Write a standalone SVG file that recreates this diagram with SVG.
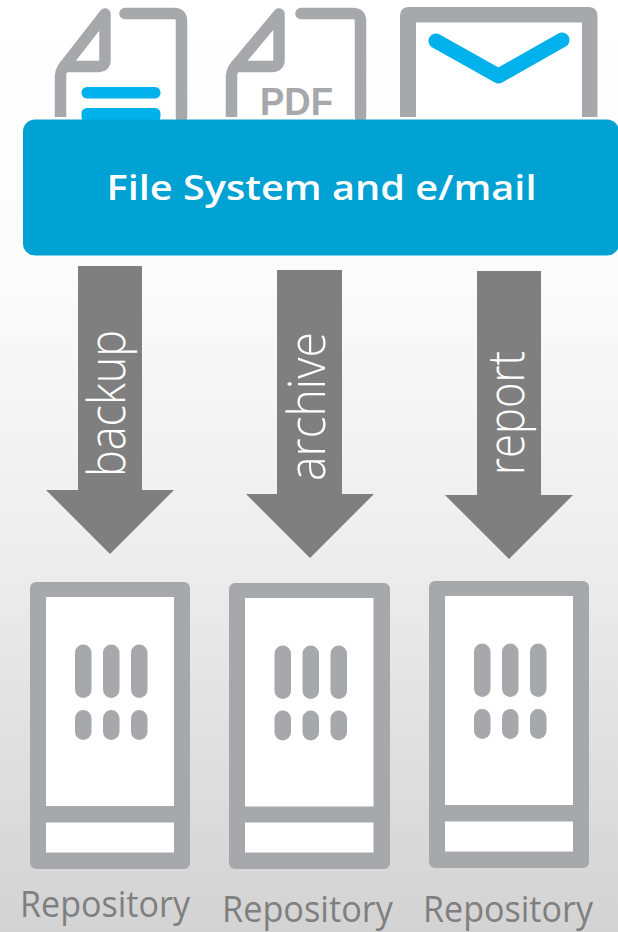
<svg xmlns="http://www.w3.org/2000/svg" width="618" height="932" viewBox="0 0 618 932">
<defs>
<linearGradient id="bg" x1="0" y1="0" x2="0" y2="1"><stop offset="0" stop-color="#ffffff"/><stop offset="0.28" stop-color="#fcfcfc"/><stop offset="0.6" stop-color="#ededed"/><stop offset="1" stop-color="#d3d3d3"/></linearGradient>
</defs>
<style>
.ln{fill:none;stroke:#a7a8ab;stroke-linejoin:round}
.bl{fill:#00b1eb}
.gr{fill:#a7a8ab}
.wh{fill:#ffffff}
.lab{font-family:"Open Sans","Liberation Sans",sans-serif;font-weight:350;fill:#ffffff;font-size:51px}
.rep{font-family:"Open Sans","Liberation Sans",sans-serif;font-weight:400;fill:#7f7f7f;font-size:36px}
.arr{fill:#7f7f7f}
</style>
<rect width="618" height="932" fill="url(#bg)"/>
<g id="doc-text">
<path class="wh" d="M60 117V70L104 14V22H181V117Z"/>
<path class="ln" stroke-width="11.500" d="M60.500 117V76Q60.500 72 63 68L105 14V60Q105 66.500 98 66.500H60.500"/>
<path class="ln" stroke-width="11.500" stroke-linecap="round" d="M125 13.500H174Q181.500 13.500 181.500 21V117"/>
<rect class="bl" x="81.500" y="87" width="79" height="11.500" rx="5.500"/>
<rect class="bl" x="81.500" y="108" width="79" height="14" rx="5.500"/>
</g>
<g id="doc-pdf">
<path class="wh" d="M231 117V70L277 14V22H360V117Z"/>
<path class="ln" stroke-width="11.500" d="M231.500 117V76Q231.500 72 234 68L279 14V60Q279 66.500 272 66.500H231.500"/>
<path class="ln" stroke-width="11.500" stroke-linecap="round" d="M301 13.500H353Q360.500 13.500 360.500 21V117"/>
<text x="260" y="115" font-family="'Liberation Sans',sans-serif" font-weight="700" font-size="39" fill="#a7a8ab" textLength="73" lengthAdjust="spacingAndGlyphs">PDF</text>
</g>
<g id="mail">
<path class="wh" d="M408 15H590V117H408Z"/>
<path d="M400 117V16Q400 7 409 7H588Q597.500 7 597.500 16V117H582V22.500H416V117Z" class="gr"/>
<path d="M436 41L498.500 76L562 40" fill="none" stroke="#00b1eb" stroke-width="15" stroke-linecap="round" stroke-linejoin="round"/>
</g>
<g id="file-system">
<rect x="23" y="119.500" width="596" height="136" rx="12" fill="#00a1d3"/>
<text x="321.500" y="200" text-anchor="middle" font-family="'Open Sans','Liberation Sans',sans-serif" font-weight="600" font-size="35" fill="#ffffff" textLength="430" lengthAdjust="spacingAndGlyphs">File System and e/mail</text>
</g>
<g id="connectors">
<path class="arr" d="M78 266H142V490H174L110 554L46 490H78Z"/>
<path class="arr" d="M277 270H342V494H374L310 558L246 494H277Z"/>
<path class="arr" d="M477 271H541V495H573L509 559L445 495H477Z"/>
<text class="lab" transform="translate(124.500,477) rotate(-90)" textLength="147" lengthAdjust="spacingAndGlyphs">backup</text>
<text class="lab" transform="translate(324.500,481) rotate(-90)" textLength="149" lengthAdjust="spacingAndGlyphs">archive</text>
<text class="lab" transform="translate(524,475) rotate(-90)" textLength="124" lengthAdjust="spacingAndGlyphs">report</text>
</g>
<g id="repository-1">
<rect class="gr" x="30" y="582" width="160" height="287" rx="6"/>
<rect class="wh" x="46" y="597" width="128" height="209"/>
<rect class="wh" x="46" y="822.500" width="128" height="30"/>
<g class="gr">
<rect x="75" y="644.500" width="16.500" height="53.500" rx="8.200"/><rect x="103" y="644.500" width="16.500" height="53.500" rx="8.200"/><rect x="131" y="644.500" width="16.500" height="53.500" rx="8.200"/>
<rect x="75" y="710" width="16.500" height="30" rx="8.200"/><rect x="103" y="710" width="16.500" height="30" rx="8.200"/><rect x="131" y="710" width="16.500" height="30" rx="8.200"/>
</g>
<text class="rep" x="20" y="917" textLength="170" lengthAdjust="spacingAndGlyphs">Repository</text>
</g>
<g id="repository-2">
<rect class="gr" x="229" y="583" width="161" height="286" rx="6"/>
<rect class="wh" x="245" y="598" width="128.500" height="208.500"/>
<rect class="wh" x="245" y="822.500" width="128.500" height="30"/>
<g class="gr">
<rect x="274.500" y="645.500" width="16.500" height="53.500" rx="8.200"/><rect x="302.500" y="645.500" width="16.500" height="53.500" rx="8.200"/><rect x="330.500" y="645.500" width="16.500" height="53.500" rx="8.200"/>
<rect x="274.500" y="710.500" width="16.500" height="30" rx="8.200"/><rect x="302.500" y="710.500" width="16.500" height="30" rx="8.200"/><rect x="330.500" y="710.500" width="16.500" height="30" rx="8.200"/>
</g>
<text class="rep" x="222" y="922" textLength="171" lengthAdjust="spacingAndGlyphs">Repository</text>
</g>
<g id="repository-3">
<rect class="gr" x="429" y="581" width="160" height="287" rx="6"/>
<rect class="wh" x="445" y="596" width="128" height="209"/>
<rect class="wh" x="445" y="821.500" width="128" height="30"/>
<g class="gr">
<rect x="474" y="643.500" width="16.500" height="53.500" rx="8.200"/><rect x="502" y="643.500" width="16.500" height="53.500" rx="8.200"/><rect x="530" y="643.500" width="16.500" height="53.500" rx="8.200"/>
<rect x="474" y="709" width="16.500" height="30" rx="8.200"/><rect x="502" y="709" width="16.500" height="30" rx="8.200"/><rect x="530" y="709" width="16.500" height="30" rx="8.200"/>
</g>
<text class="rep" x="423" y="922" textLength="170" lengthAdjust="spacingAndGlyphs">Repository</text>
</g>
</svg>
